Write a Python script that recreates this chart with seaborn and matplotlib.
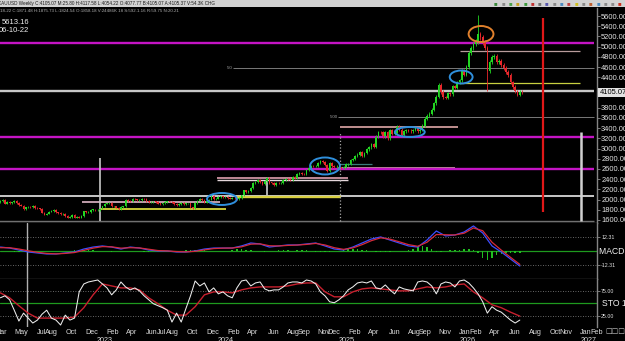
import numpy as np
import pandas as pd
import matplotlib
matplotlib.use("Agg")
import matplotlib.pyplot as plt
import matplotlib.dates as mdates
import matplotlib.transforms as mtrans
from matplotlib.patches import Ellipse, Rectangle
import seaborn as sns

# ------------------------------------------------------------------ data
first_week = "2022-02-28"          # weekly candles, one per week
closes_2022 = [1970, 1988, 1921, 1958, 1925, 1945, 1975, 1932, 1896, 1883, 1811, 1846, 1853, 1850, 1871,
               1840, 1827, 1811, 1742, 1707, 1727, 1766, 1775, 1802, 1747, 1738, 1712, 1717, 1675, 1643,
               1661, 1695, 1644, 1657, 1644, 1681, 1771, 1751, 1755, 1797, 1797, 1793, 1798, 1824]
closes_2023 = [1866, 1920, 1926, 1928, 1865, 1865, 1842, 1811, 1856, 1868, 1989, 1978, 1969, 2007, 2004,
               1983, 1990, 2017, 2011, 1977, 1946, 1948, 1961, 1958, 1921, 1919, 1925, 1955, 1962, 1959,
               1943, 1913, 1889, 1914, 1940, 1919, 1924, 1925, 1849, 1833, 1933, 1981, 2006, 1993, 1940,
               1981, 2001, 2072, 2005, 2019, 2053, 2063]
closes_2024 = [2045, 2049, 2029, 2018, 2039, 2024, 2013, 2035, 2083, 2179, 2155, 2165, 2230, 2329, 2344,
               2392, 2337, 2301, 2360, 2415, 2334, 2327, 2293, 2333, 2321, 2326, 2392, 2411, 2400, 2386,
               2443, 2431, 2507, 2512, 2503, 2497, 2577, 2621, 2658, 2653, 2657, 2721, 2747, 2736, 2685,
               2563, 2715, 2650, 2633, 2648, 2622, 2621]
closes_2025 = [2640, 2690, 2702, 2770, 2800, 2861, 2883, 2936, 2858, 2910, 2984, 3023, 3085, 3037, 3237,
               3327, 3319, 3240, 3325, 3203, 3357, 3289, 3310, 3433, 3368, 3274, 3337, 3355, 3350, 3337,
               3363, 3398, 3336, 3371, 3448, 3586, 3643, 3685, 3760, 3886, 4018, 4251, 4113, 4002, 4000,
               4084, 4065, 4218, 4198, 4300, 4338, 4530]
closes_2026 = [4450, 4600, 4870, 4980, 5050, 5100, 5250, 5180, 5080, 4980, 4520, 4690, 4790, 4820, 4700,
               4720, 4640, 4580, 4500, 4440, 4300, 4210, 4120, 4060, 4110, 4105.07]
first_open = 1950.0
peak_week, peak_high = "2026-02-09", 5613.16
crash_week, crash_low = "2026-03-09", 4120.0
last_price = 4105.07

# MACD (sampled every 4 weeks), histogram (every 2 weeks)
macd_line = [3.6, 2.7, 0.9, -0.9, -1.8, -2.7, -2.7, -1.8, -0.9, 1.8, 3.6, 4.6, 3.6, 1.8, 3.6, 2.7, 0.9, 0.0,
             0.0, -0.9, -0.9, 0.0, 1.8, 2.7, 2.7, 2.7, 4.6, 7.3, 6.4, 3.6, 4.6, 5.5, 5.5, 6.4, 7.3, 4.6, 1.8,
             0.9, 3.6, 7.3, 10.9, 12.8, 10.0, 7.3, 4.6, 3.6, 10.0, 18.2, 13.7, 14.6, 17.3, 22.8, 16.4, 4.6,
             -0.9, -7.3, -13.7]
macd_signal = [3.0, 3.0, 1.8, 0.2, -1.2, -2.2, -2.6, -2.2, -1.4, 0.6, 2.6, 4.0, 3.8, 2.6, 3.0, 2.8, 1.6, 0.4,
               0.1, -0.5, -0.8, -0.3, 1.0, 2.2, 2.6, 2.7, 3.8, 6.2, 6.5, 4.8, 4.6, 5.1, 5.4, 6.0, 6.9, 5.5, 3.0,
               1.5, 2.8, 5.8, 9.4, 12.0, 10.8, 8.4, 5.8, 4.3, 8.0, 15.0, 14.8, 14.6, 16.2, 21.0, 18.5, 8.0,
               0.8, -5.8, -12.2]
macd_hist = [0.3, 0.2, -0.4, -0.6, -0.5, -0.3, -0.2, 0.1, 0.3, 0.4, 0.2, 0.1, -0.2, -0.4, -0.2, 0.1, 0.5,
             1.0, 1.2, 1.0, 0.6, 0.4, 0.2, -0.3, -0.5,
             -0.4, -0.2, 0.3, 0.4, -0.2, -0.4, -0.5, -0.6, -0.4, -0.3, -0.2, -0.4, -0.5, -0.3, 0.2, 0.5,
             0.8, 1.0, 0.8, 0.5, 0.2, -0.2, -0.3, -0.2, 0.3, 0.8, 1.4, 1.6, 1.2, 0.6, 0.2, -0.3,
             -0.5, -0.3, 0.2, 0.5, 0.6, 0.5, 0.4, 0.6, 0.8, 0.5, 0.3, -0.6, -1.0, -1.2, -0.8, -0.4,
             0.4, 1.0, 1.5, 1.8, 1.6, 1.2, 0.8, 0.2, -0.5, -0.8, -0.6, -0.5, -0.4, -0.2, 0.4, 0.9,
             1.8, 3.2, 4.5, 3.6, 1.5, -0.8, -0.6, 0.4, 0.6, 0.9, 1.2, 1.5,
             1.8, 1.2, -1.5, -6.5, -8.5, -6.0, -4.0, -3.0, -2.2, -1.8, -1.6, -1.5]
macd_ref = 12.31

# Stochastic: %K every 2 weeks, %D every 4 weeks
stoch_k = [61, 65, 57, 36, 14, 30, 20, 10, 16, 28, 36, 20, 16, 6, 26, 16, 20, 73, 89, 93,
           95, 97, 89, 81, 67, 77, 93, 83, 77, 81, 75, 65, 57, 49, 45, 41, 36, 12, 30, 12,
           39, 65, 95, 85, 91, 73, 81, 69, 73, 65, 61, 81, 95, 97, 85, 91, 93, 79, 75, 77,
           77, 83, 91, 93, 93, 91, 97, 95, 89, 73, 65, 53, 51, 57, 65, 77, 83, 91, 93, 91,
           95, 81, 79, 87, 77, 69, 83, 79, 77, 75, 93, 95, 93, 85, 69, 89, 93, 91, 83, 95,
           97, 91, 81, 69, 53, 30, 43, 36, 32, 24, 16, 10, 16]
stoch_d = [71, 61, 45, 30, 20, 20, 20, 20, 22, 41, 67, 89, 85, 81, 81, 77, 61, 49, 36, 26,
           26, 43, 67, 73, 73, 71, 77, 81, 83, 83, 83, 85, 89, 91, 91, 73, 63, 63, 73, 79,
           81, 79, 77, 75, 75, 79, 83, 81, 83, 87, 89, 73, 61, 47, 41, 32, 24]
stoch_levels = [75, 50, 25]

# drawn price levels (price, from, to)
level_prices = [5075, 4920, 4590, 4280, 4130, 3625, 3430, 3230, 2700, 2620, 2595, 2433, 2384,
                2080, 2051, 1943, 1822, 1590]
level_starts = ["2022-02-01", "2025-12-17", "2024-01-31", "2025-12-17", "2022-02-01", "2024-12-13",
                "2024-12-19", "2022-02-01", "2024-12-19", "2024-12-19", "2022-02-01", "2023-12-14",
                "2023-12-14", "2022-02-01", "2024-02-12", "2022-11-02", "2022-12-26", "2022-02-01"]
level_ends = ["2027-01-24", "2026-12-13", "2027-01-24", "2026-12-13", "2027-01-24", "2027-01-24",
              "2025-12-11", "2027-01-24", "2025-03-26", "2025-12-02", "2027-01-24", "2025-01-12",
              "2025-01-12", "2027-01-24", "2024-12-22", "2023-12-23", "2024-01-10", "2027-01-24"]
level_tags = {4590: "50", 3625: "500"}

# circled zones
ellipse_dates = ["2023-12-29", "2024-11-04", "2025-07-18", "2025-12-20", "2026-02-18"]
ellipse_prices = [2012, 2659, 3325, 4404, 5247]
ellipse_days = [90, 90, 90, 69, 75]
ellipse_price_span = [235, 333, 196, 255, 314]

# vertical marker lines
vline_dates = ["2026-08-24", "2026-12-16", "2022-12-26", "2024-12-19", "2024-05-13"]
vline_low = [1757, 1590, 1590, 1590, 2090]
vline_high = [5560, 3320, 2816, 3306, 2384]
panel_vline_date = "2022-05-20"

price_ticks = [1600, 1800, 2000, 2200, 2400, 2600, 2800, 3000, 3200, 3400, 3600, 3800,
               4400, 4600, 4800, 5000, 5200, 5400, 5600]
month_ticks = ["2022-03-01", "2022-05-01", "2022-07-01", "2022-08-01", "2022-10-01", "2022-12-01",
               "2023-02-01", "2023-04-01", "2023-06-01", "2023-07-01", "2023-08-01", "2023-10-01",
               "2023-12-01", "2024-02-01", "2024-04-01", "2024-06-01", "2024-08-01", "2024-09-01",
               "2024-11-01", "2024-12-01", "2025-02-01", "2025-04-01", "2025-06-01", "2025-08-01",
               "2025-09-01", "2025-11-01", "2026-01-01", "2026-02-01", "2026-04-01", "2026-06-01",
               "2026-08-01", "2026-10-01", "2026-11-01", "2027-01-01", "2027-02-01"]
month_labels = ["Mar", "May", "Jul", "Aug", "Oct", "Dec", "Feb", "Apr", "Jun", "Jul", "Aug", "Oct",
                "Dec", "Feb", "Apr", "Jun", "Aug", "Sep", "Nov", "Dec", "Feb", "Apr", "Jun", "Aug",
                "Sep", "Nov", "Jan", "Feb", "Apr", "Jun", "Aug", "Oct", "Nov", "Jan", "Feb"]
year_ticks = ["2023-01-08", "2024-01-08", "2025-01-08", "2026-01-08", "2027-01-08"]
year_labels = ["2023", "2024", "2025", "2026", "2027"]
x_range = ["2022-02-27", "2027-02-03"]

title_text = ("XAUUSD Weekly C:4105.07 M:25.80 H:4117.58 L:4054.22 O:4077.77 B:4105.07 "
              "A:4105.37 V:54.3K CHG")
info_text = "18-22 C:1871.48 H:1875.73 L:1824.54 O:1858.18 V:24486K 18 S:592.1.16 R:59.75 N:20.21"
cursor_price = "5613.16"
cursor_date = "06-10-22"

# ------------------------------------------------------------------ style
sns.set_theme(style="dark", rc={
    "axes.facecolor": "black", "figure.facecolor": "black", "axes.edgecolor": "#858585",
    "axes.grid": False, "xtick.color": "#d8d8d8", "ytick.color": "#8a8a8a",
    "text.color": "#e0e0e0",
})
plt.rcParams["font.family"] = ["Liberation Sans", "DejaVu Sans"]

fig = plt.figure(figsize=(6.25, 3.41), dpi=100)
fig.patch.set_facecolor("black")
PW = 597 / 625


def frame(top, bottom):
    return [0, 1 - bottom / 341, PW, (bottom - top) / 341]


ax = fig.add_axes(frame(8, 223))
axm = fig.add_axes(frame(223, 279))
axs = fig.add_axes(frame(279, 327))

d2n = lambda s: mdates.date2num(pd.to_datetime(s))
xlo, xhi = d2n(x_range[0]), d2n(x_range[1])

for a in (ax, axm, axs):
    a.set_facecolor("black")
    a.set_xlim(xlo, xhi)
    a.spines["left"].set_visible(False)
    a.spines["top"].set_visible(False)
    a.spines["right"].set_color("#858585")
    a.spines["right"].set_linewidth(1.0)
    a.spines["bottom"].set_color("#858585")
    a.spines["bottom"].set_linewidth(0.9)
    a.yaxis.tick_right()
    a.tick_params(axis="y", which="both", length=2, width=0.6, pad=1, labelcolor="#e4e4e4")
axs.spines["bottom"].set_visible(False)

# ------------------------------------------------------------------ price panel
closes = np.array(closes_2022 + closes_2023 + closes_2024 + closes_2025 + closes_2026, float)
weeks = pd.date_range(first_week, periods=len(closes), freq="7D")
xw = mdates.date2num(weeks)
opens = np.r_[first_open, closes[:-1]]
highs = np.maximum(opens, closes) * 1.008
lows = np.minimum(opens, closes) * 0.992
highs[weeks.get_loc(pd.Timestamp(peak_week))] = peak_high
lows[weeks.get_loc(pd.Timestamp(crash_week))] = crash_low
colors = np.where(closes >= opens, "#22d622", "#e8282c")

level_styles = [("#c414c4", 1.7), ("#b89c9c", 0.9), ("#8c8c8c", 0.6), ("#c8d040", 0.9),
                ("#c8c8c8", 1.7), ("#8c8c8c", 0.6), ("#e0a8a8", 1.2), ("#c414c4", 1.7),
                ("#3a7a7a", 0.9), ("#e8b8b8", 1.1), ("#c414c4", 1.7), ("#e0a0b0", 1.2),
                ("#e6d8dc", 1.0), ("#c8c8c8", 1.4), ("#d8d040", 1.7), ("#e0b8c8", 1.2),
                ("#e8e840", 1.2), ("#707070", 1.0)]
for p, s, e, (col, lw) in zip(level_prices, level_starts, level_ends, level_styles):
    ax.hlines(p, d2n(s), d2n(e), colors=col, lw=lw, zorder=1)
    if p in level_tags:
        ax.text(d2n(s), p, level_tags[p] + " ", fontsize=3.2, color="#a0a0a0",
                ha="right", va="center", zorder=1)

vstyles = [("#e01818", 1.6, "-"), ("#d0d0d0", 1.8, "-"), ("#c8c8c8", 1.2, "-"),
           ("#a8a8a8", 0.9, ":"), ("#d0d0d0", 1.2, "-")]
for d, lo_, hi_, (col, lw, ls) in zip(vline_dates, vline_low, vline_high, vstyles):
    ax.vlines(d2n(d), lo_, hi_, colors=col, lw=lw, linestyles=ls, zorder=2)

ax.vlines(xw, lows, highs, colors=colors, lw=0.6, zorder=3)
ax.bar(xw, np.maximum(np.abs(closes - opens), 10), bottom=np.minimum(opens, closes),
       width=5.0, color=colors, lw=0, zorder=4)

ell_cols = ["#2f8fdc"] * 4 + ["#e0802c"]
for d, p, w, h, col in zip(ellipse_dates, ellipse_prices, ellipse_days, ellipse_price_span, ell_cols):
    ax.add_patch(Ellipse((d2n(d), p), w, h, fill=False, ec=col, lw=1.4, zorder=5))

ax.set_ylim(1541, 5757)
ax.set_yticks(price_ticks)
ax.set_yticklabels([f"{p:.2f}" for p in price_ticks], fontsize=5.4)
ax.tick_params(axis="x", bottom=False, labelbottom=False)
trans = mtrans.blended_transform_factory(ax.transAxes, ax.transData)
ax.text(1.004, last_price, f"{last_price:.2f}", transform=trans, fontsize=5.4, color="black",
        va="center", ha="left", clip_on=False,
        bbox=dict(boxstyle="square,pad=0.12", fc="#e2e2e2", ec="none"))

# ------------------------------------------------------------------ MACD panel
x4, x2 = xw[::4], xw[::2]
axm.axhline(0, color="#1e9a1e", lw=0.9, zorder=1)
for v in (macd_ref, -macd_ref):
    axm.axhline(v, color="#8a8a8a", lw=0.6, ls=(0, (1, 2)), zorder=1)
axm.bar(x2, macd_hist, width=4.5, color="#20c020", lw=0, zorder=2)
sns.lineplot(x=x4, y=macd_line, ax=axm, color="#3b4dff", lw=0.9, zorder=3)
sns.lineplot(x=x4, y=macd_signal, ax=axm, color="#d42a3a", lw=0.9, zorder=3)
axm.axvline(d2n(panel_vline_date), color="#b0b0b0", lw=1.0, zorder=1)
axm.set_ylim(-25.5, 25.5)
axm.set_yticks([macd_ref, -macd_ref])
axm.set_yticklabels([f"{macd_ref:.2f}", f"{-macd_ref:.2f}"], fontsize=3.8)
axm.set_ylabel("")
axm.tick_params(axis="x", bottom=False, labelbottom=False)
tm = mtrans.blended_transform_factory(axm.transAxes, axm.transData)
axm.text(1.004, 0, "MACD 6", transform=tm, fontsize=6.2, color="#f0f0f0", va="center",
         ha="left", clip_on=False)

# ------------------------------------------------------------------ stochastic panel
axs.axhline(stoch_levels[1], color="#1e9a1e", lw=0.9, zorder=1)
for v in (stoch_levels[0], stoch_levels[2]):
    axs.axhline(v, color="#8a8a8a", lw=0.6, ls=(0, (1, 2)), zorder=1)
sns.lineplot(x=x2, y=stoch_k, ax=axs, color="#ececec", lw=0.75, zorder=3)
sns.lineplot(x=x4, y=stoch_d, ax=axs, color="#c8202e", lw=1.0, zorder=2)
axs.axvline(d2n(panel_vline_date), color="#b0b0b0", lw=1.0, zorder=1)
axs.set_ylim(2, 99)
axs.set_yticks([stoch_levels[0], stoch_levels[2]])
axs.set_yticklabels([f"{v:.2f}" for v in (stoch_levels[0], stoch_levels[2])], fontsize=3.8)
axs.set_ylabel("")
ts = mtrans.blended_transform_factory(axs.transAxes, axs.transData)
axs.text(1.008, stoch_levels[1], "STO 18", transform=ts, fontsize=6.2, color="#f0f0f0",
         va="center", ha="left", clip_on=False)

axs.set_xticks(d2n(month_ticks))
axs.set_xticklabels(month_labels)
axs.set_xticks(d2n(year_ticks), minor=True)
axs.set_xticklabels(year_labels, minor=True)
axs.tick_params(axis="x", which="major", length=0, pad=1.2, labelsize=5.2, labelcolor="#dcdcdc")
axs.tick_params(axis="x", which="minor", length=0, pad=7.0, labelsize=5.2, labelcolor="#dcdcdc")
axs.set_xlabel("")

# ------------------------------------------------------------------ window chrome texts
fig.patches.append(Rectangle((0, 1 - 7 / 341), 1, 7 / 341, transform=fig.transFigure,
                             fc="#d2d2d2", ec="none", zorder=0))
fig.text(-0.004, 1 - 3.6 / 341, title_text, fontsize=3.3, color="#1a1a1a", va="center", ha="left")
icon_cols = ["#3a8a3a", "#8a8a8a", "#4aa04a", "#c8a020", "#3a9a3a", "#c03030", "#707070",
             "#5a5ab0", "#8a8a8a", "#4a8ac0", "#c04040", "#d0c020", "#8a8a8a", "#c06030",
             "#4a8ac0", "#8a8a8a", "#8a8a8a", "#d03020"]
for i, c in enumerate(icon_cols):
    fig.text((494 + i * 7.3) / 625, 1 - 3.8 / 341, "\u25a0", fontsize=4.2, color=c,
             va="center", ha="left")
fig.text(0.0, 1 - 11 / 341, info_text, fontsize=3.2, color="#b0b0b0", va="center", ha="left")
fig.text(2 / 625, 1 - 22 / 341, cursor_price, fontsize=5.5, color="#f0f0f0", va="center", ha="left")
fig.text(-1 / 625, 1 - 30 / 341, cursor_date, fontsize=5.5, color="#f0f0f0", va="center", ha="left")
fig.text(605 / 625, 1 - 331 / 341, "\u25a1\u25a1\u25a1\u25a1", fontsize=5, color="#c8c8c8",
         va="center", ha="left", family="DejaVu Sans")

fig.savefig("out.png", dpi=100, facecolor="black")
